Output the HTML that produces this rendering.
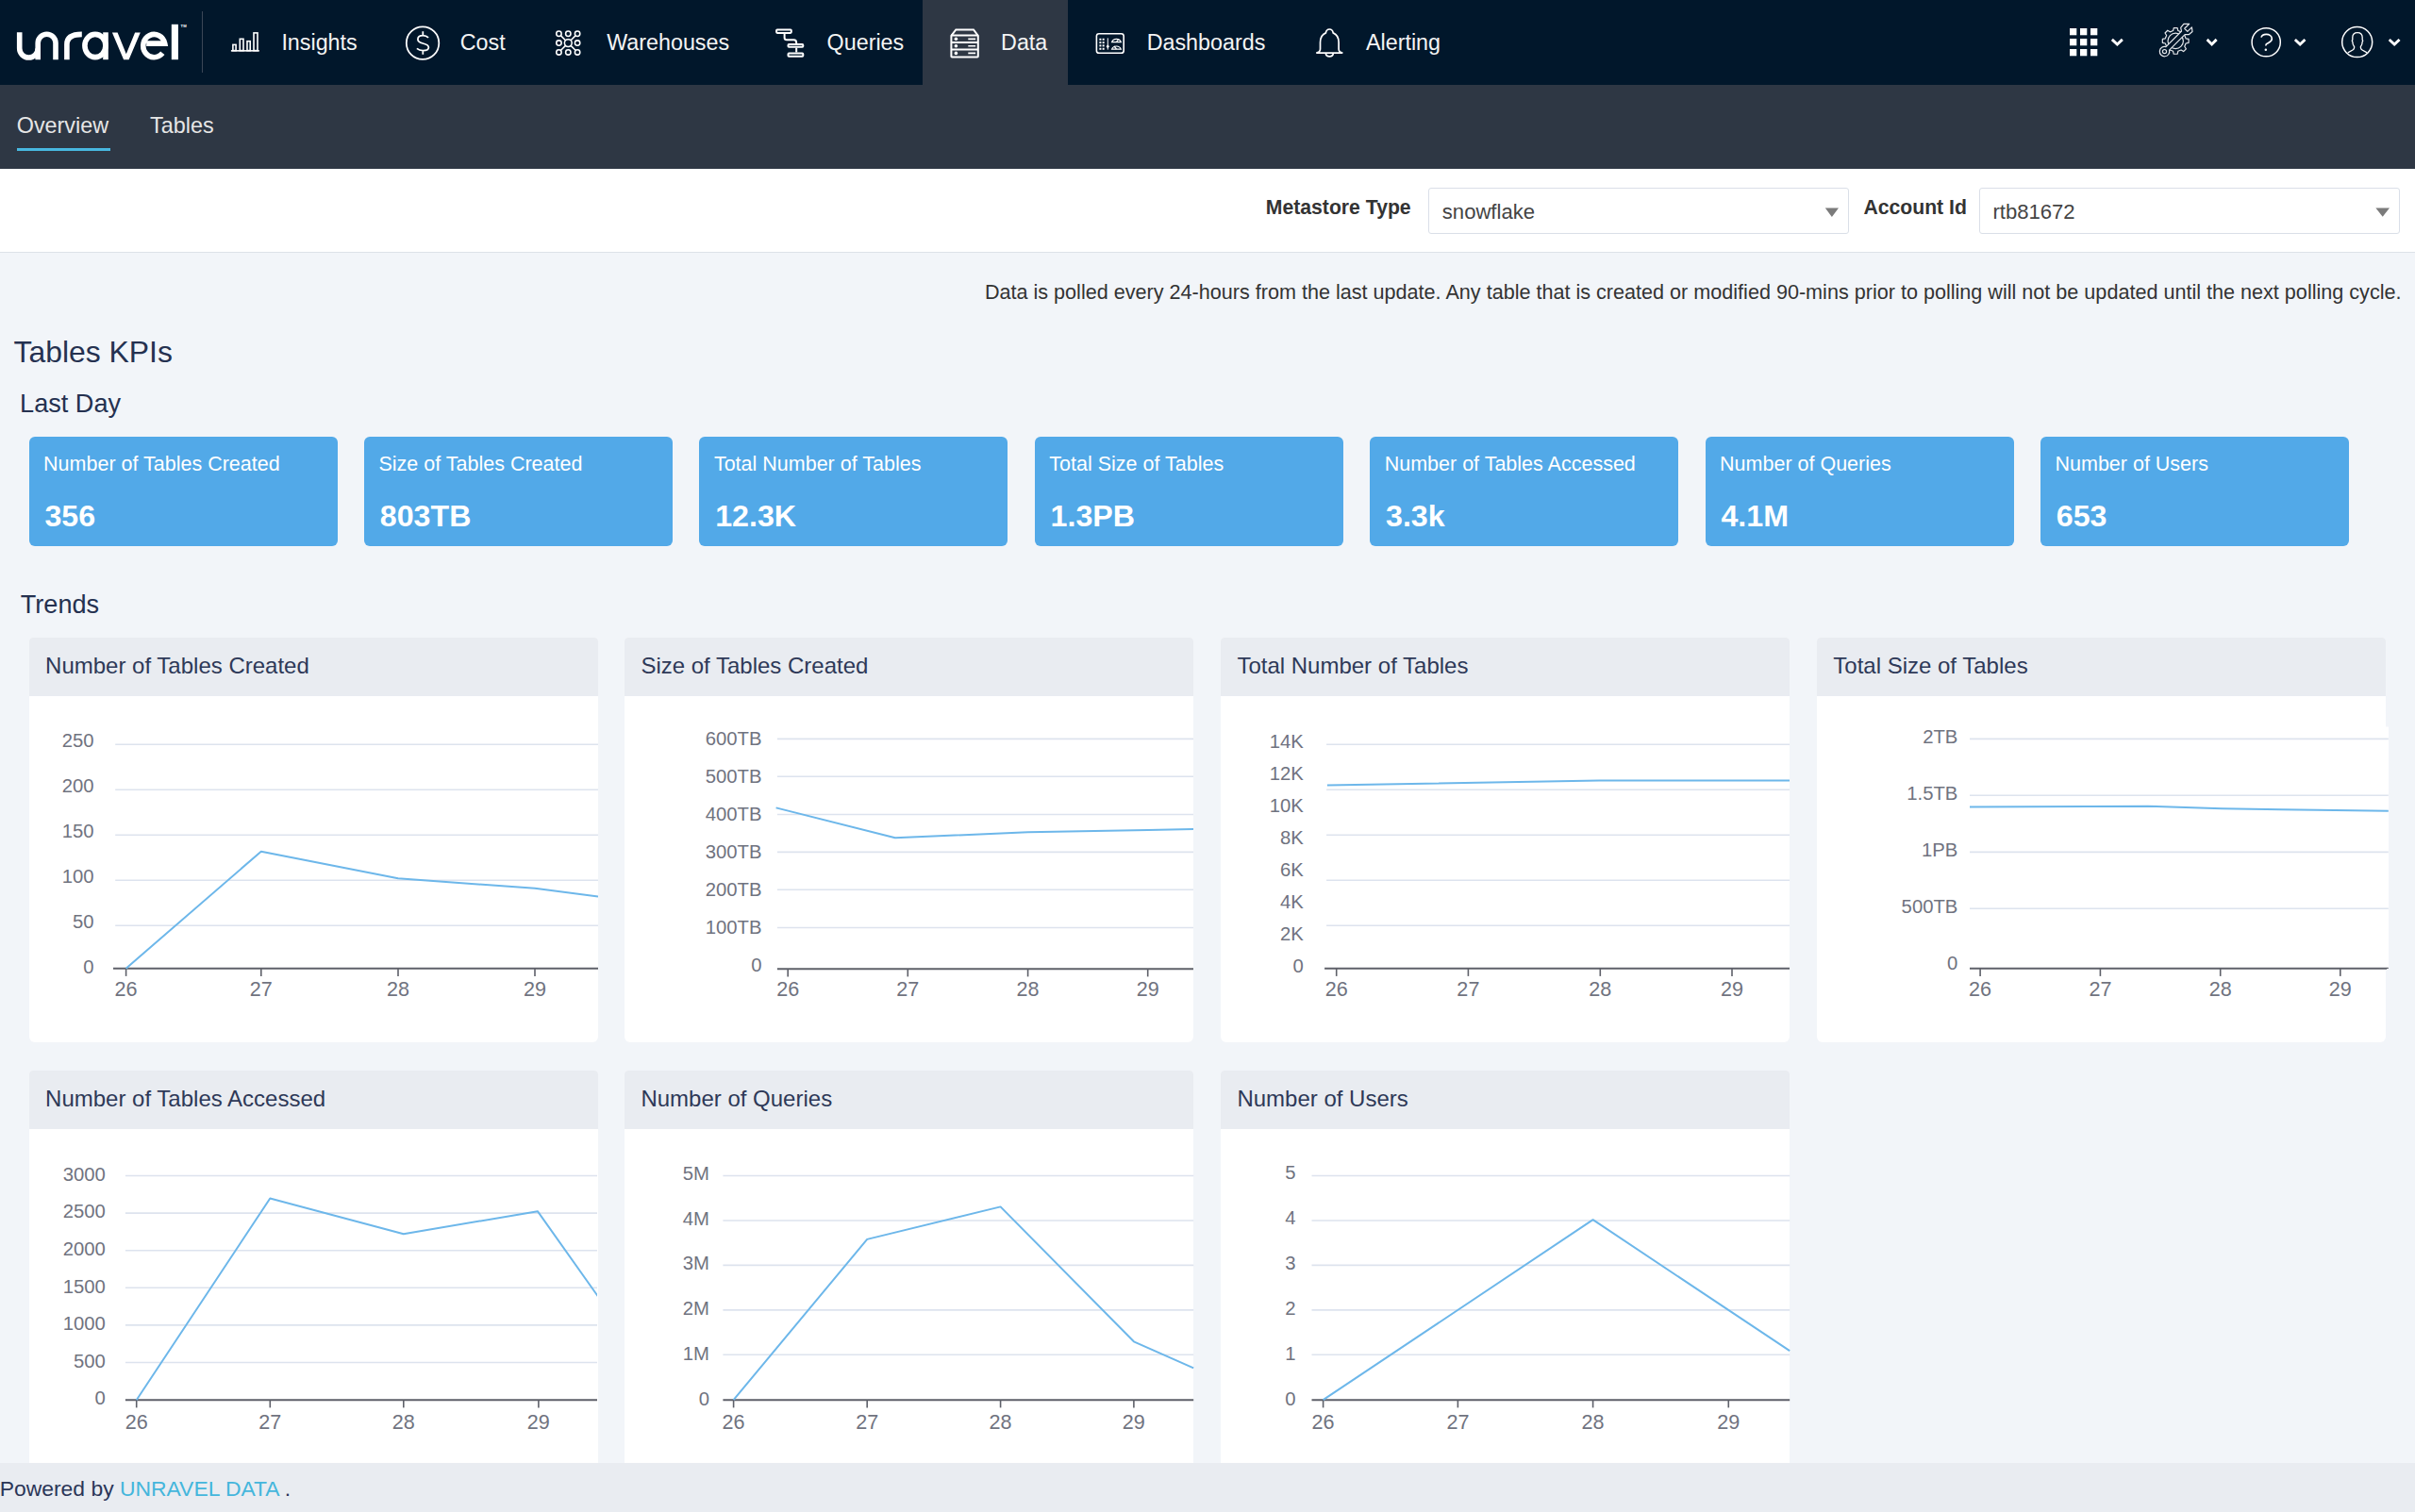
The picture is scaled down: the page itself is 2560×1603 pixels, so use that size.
<!DOCTYPE html>
<html><head><meta charset="utf-8"><title>Unravel - Data Overview</title>
<style>
html,body{margin:0;padding:0;}
body{width:2560px;height:1603px;position:relative;overflow:hidden;background:#f2f5f9;font-family:"Liberation Sans", sans-serif;}
.t{position:absolute;white-space:nowrap;line-height:1;}
</style></head><body>
<div style="position:absolute;left:0;top:0;width:2560px;height:90px;background:#01172b"></div><div style="position:absolute;left:978px;top:0;width:154px;height:90px;background:#2e3744"></div><div style="position:absolute;left:213.5px;top:12px;width:1.5px;height:65px;background:#3b4757"></div><svg style="position:absolute;left:0;top:0" width="220" height="90" viewBox="0 0 220 90">
<g fill="none" stroke="#fff" stroke-width="5.6" stroke-linecap="butt">
<path d="M20.7,34.3 V51.3 A9.75,9.75 0 0 0 40.2,51.3"/>
<path d="M40.2,63.2 V45.6 A9.4,9.4 0 0 1 59,45.6 V63.2"/>
<path d="M70.9,63.2 V47 Q70.9,36.4 86.8,36.4"/>
<ellipse cx="100.9" cy="48.5" rx="11" ry="12.1"/>
<path d="M112,34.3 V63.2"/>
<path d="M155.2,46.1 H174.7 A11.6,12.1 0 1 0 172.3,56.3"/>
</g>
<polygon fill="#fff" points="118.9,34.4 124.6,34.4 133.8,57.2 143.1,34.4 148.8,34.4 136.6,63.2 131.1,63.2"/>
<rect fill="#fff" x="181.8" y="25.8" width="7.1" height="37.4"/>
<text x="191.6" y="29.4" font-family="Liberation Sans" font-size="4.2" font-weight="700" fill="#fff">TM</text>
</svg><svg style="position:absolute;left:0;top:0" width="2560" height="90" viewBox="0 0 2560 90">
<g fill="none" stroke="#ffffff" stroke-width="1.6">
<!-- insights -->
<rect x="246.9" y="47.4" width="3.2" height="6.2"/>
<rect x="254.3" y="41.3" width="3.7" height="12.3"/>
<rect x="262" y="43.7" width="3.2" height="9.9"/>
<rect x="269" y="34.9" width="4" height="18.7"/>
<path d="M244.9,53.85 H274.8" stroke-width="1.6"/>
<!-- cost -->
<circle cx="448.05" cy="45.65" r="17.25" stroke-width="1.75"/>
<path stroke-width="1.75" d="M454.1,39.9 C452.5,38.2 450.5,37.6 448.3,37.6 C445,37.6 442.9,39.3 442.9,41.8 C442.9,44.5 445.5,45.3 448.3,46 C451.5,46.8 454.4,47.6 454.4,50.2 C454.4,52.5 451.8,53.6 448.3,53.6 C445.5,53.6 443.5,52.8 441.9,51.4 M448.3,33.3 V37.6 M448.3,53.6 V57.8"/>
<!-- warehouses -->
<g stroke-width="1.55">
<circle cx="592.45" cy="35.7" r="2.7"/><circle cx="602.3" cy="35.7" r="2.7"/><circle cx="612.1" cy="35.7" r="2.7"/>
<circle cx="592.45" cy="45.6" r="2.7"/><circle cx="612.1" cy="45.6" r="2.7"/>
<circle cx="592.45" cy="55.4" r="2.7"/><circle cx="602.3" cy="55.4" r="2.7"/><circle cx="612.1" cy="55.4" r="2.7"/>
<circle cx="602.3" cy="45.6" r="3.9"/>
<path d="M594.6,37.9 L599.5,42.8 M610,37.9 L605.1,42.8 M594.6,53.3 L599.5,48.4 M610,53.3 L605.1,48.4"/>
</g>
<!-- queries -->
<g stroke-width="2">
<rect x="823.1" y="31.4" width="15.7" height="3.5" rx="0.8"/>
<rect x="835.5" y="47.1" width="15.8" height="2.6" rx="0.8"/>
<rect x="835.5" y="56.6" width="15.8" height="3.2" rx="0.8"/>
<path d="M831.6,35.9 V40 Q831.6,42.3 834,42.3 H841.5 Q844.2,42.3 844.2,45.5 V46.1 M844.2,50.7 V55.6"/>
</g>
<!-- data -->
<g stroke-width="2">
<path d="M1008.4,59.8 V37.8 L1013.3,31.5 H1032 L1036.8,37.8 V59.8 Q1036.8,60.6 1036,60.6 H1009.2 Q1008.4,60.6 1008.4,59.8 Z"/>
<path d="M1008.4,37.6 H1036.8 M1008.4,44.9 H1036.8 M1008.4,52.5 H1036.8"/>
<path stroke-width="1.7" d="M1026.3,41.3 H1034.1 M1026.3,48.75 H1034.1 M1026.3,56.4 H1034.1"/>
</g>
<g fill="#ffffff" stroke="none"><circle cx="1013.4" cy="41.3" r="1.8"/><circle cx="1013.4" cy="48.75" r="1.8"/><circle cx="1013.4" cy="56.4" r="1.8"/></g>
<!-- dashboards -->
<rect x="1162.4" y="35.7" width="28.8" height="20.6" rx="2.6" stroke-width="1.6"/>
<g fill="#ffffff" stroke="none">
<rect x="1165.4" y="40.75" width="2" height="2"/><rect x="1168.65" y="40.75" width="2" height="2"/>
<rect x="1165.4" y="44.1" width="2" height="2"/><rect x="1168.65" y="44.1" width="2" height="2"/>
<rect x="1165.4" y="47.4" width="2" height="2"/><rect x="1168.65" y="47.4" width="2" height="2"/>
<rect x="1165.4" y="50.8" width="2" height="2"/><rect x="1168.65" y="50.8" width="2" height="2"/>
<path d="M1174.3,47.2 L1176,49.2 L1174.3,51.2 L1172.6,49.2 Z"/>
</g>
<path d="M1174.3,40.4 V52.6" stroke-width="1"/>
<path d="M1178.6,44.6 A5.1,4.8 0 0 1 1188.3,44.6 Z M1178.6,52.2 A5.1,4.6 0 0 1 1188.3,52.2 Z" stroke-width="1.2"/>
<path d="M1183.5,44.3 L1186,41.3 M1183.5,52 L1181,49" stroke-width="1.2"/>
<!-- bell -->
<path stroke-width="1.7" d="M1395.3,56.2 C1398,55.6 1399.5,54.5 1399.5,52 V45 C1399.5,39.5 1401.8,36.4 1405.4,34.9 C1405.8,32.5 1407.4,31 1409.3,31 C1411.2,31 1412.8,32.5 1413.2,34.9 C1416.8,36.4 1419.1,39.5 1419.1,45 V52 C1419.1,54.5 1420.6,55.6 1423.3,56.2 Z"/>
<path stroke-width="1.7" d="M1405.3,56.6 A4.05,3.6 0 0 0 1413.35,56.6"/>
<!-- help -->
<circle cx="2402.2" cy="44.75" r="15.1" stroke-width="1.5"/>
<path stroke-width="1.6" d="M2397,39.6 C2397.5,37.5 2399.5,36.4 2402.3,36.4 C2405.5,36.4 2408.3,38.2 2408.3,41.3 C2408.3,44 2405.5,45 2403.5,46 C2402.2,46.7 2401.8,47.3 2401.8,48.5"/>
<!-- user -->
<circle cx="2498.7" cy="44.6" r="16" stroke-width="1.5"/>
<path stroke-width="1.3" d="M2488.8,55.9 L2494,53 C2495.2,52.3 2495.6,51.5 2495.6,50.5 V49.5 C2494.3,48 2493.8,46 2493.8,44.2 C2493.1,43.7 2493.1,42.7 2493.8,42.2 V39.8 C2493.8,36.4 2495.9,34.6 2499,34.6 C2502.1,34.6 2504.2,36.4 2504.2,39.8 V42.2 C2504.9,42.7 2504.9,43.7 2504.2,44.2 C2504.2,46 2503.7,48 2502.4,49.5 V50.5 C2502.4,51.5 2502.8,52.3 2504,53 L2509.2,55.9"/>
<!-- chevrons -->
<g stroke-width="2.9" stroke-linecap="square" stroke-linejoin="miter">
<path d="M2239.9,42.9 L2244.35,47.1 L2248.8,42.9"/>
<path d="M2340.7,42.9 L2344.65,46.9 L2348.6,42.9"/>
<path d="M2433.9,43 L2438.15,47.1 L2442.4,43"/>
<path d="M2533.8,43 L2538.15,47.1 L2542.5,43"/>
</g>
<!-- gear wrench -->
<g stroke-width="1.2" stroke-linejoin="round" stroke="#e4e6ea">
<path d="M2317.09,40.79 L2320.06,41.45 L2320.06,45.35 L2317.09,46.01 L2315.75,49.25 L2317.38,51.83 L2314.63,54.58 L2312.05,52.95 L2308.81,54.29 L2308.15,57.26 L2304.25,57.26 L2303.59,54.29 L2300.35,52.95 L2297.77,54.58 L2295.02,51.83 L2296.65,49.25 L2295.31,46.01 L2292.34,45.35 L2292.34,41.45 L2295.31,40.79 L2296.65,37.55 L2295.02,34.97 L2297.77,32.22 L2300.35,33.85 L2303.59,32.51 L2304.25,29.54 L2308.15,29.54 L2308.81,32.51 L2312.05,33.85 L2314.63,32.22 L2317.38,34.97 L2315.75,37.55 Z"/>
<circle cx="2306.2" cy="43.4" r="8.2"/>
<path fill="#01172b" d="M2295.98,49.58 L2312.53,33.03 L2311.68,29.36 L2314.86,25.33 L2320.73,25.26 L2315.71,30.28 L2318.82,33.39 L2323.42,28.93 L2323.99,33.46 L2320.17,36.71 L2316.07,36.57 L2299.52,53.12 A5.2,5.2 0 1 1 2295.98,49.58 Z"/>
<circle cx="2294.5" cy="54.6" r="2.1"/>
</g>
</g>
<g fill="#ffffff">
<circle cx="2401.8" cy="52.8" r="1.25"/>
<rect x="2194" y="30" width="7.3" height="7.3"/><rect x="2205" y="30" width="7.3" height="7.3"/><rect x="2216" y="30" width="7.3" height="7.3"/>
<rect x="2194" y="41" width="7.3" height="7.3"/><rect x="2205" y="41" width="7.3" height="7.3"/><rect x="2216" y="41" width="7.3" height="7.3"/>
<rect x="2194" y="52" width="7.3" height="7.3"/><rect x="2205" y="52" width="7.3" height="7.3"/><rect x="2216" y="52" width="7.3" height="7.3"/>
</g>
</svg><div class="t" style="left:298.40px;top:33.57px;font-size:23.3px;color:#f4f4f4;font-weight:400;">Insights</div><div class="t" style="left:487.80px;top:33.57px;font-size:23.3px;color:#f4f4f4;font-weight:400;">Cost</div><div class="t" style="left:643.20px;top:33.57px;font-size:23.3px;color:#f4f4f4;font-weight:400;">Warehouses</div><div class="t" style="left:876.60px;top:33.57px;font-size:23.3px;color:#f4f4f4;font-weight:400;">Queries</div><div class="t" style="left:1061.10px;top:33.57px;font-size:23.3px;color:#f4f4f4;font-weight:400;">Data</div><div class="t" style="left:1215.70px;top:33.57px;font-size:23.3px;color:#f4f4f4;font-weight:400;">Dashboards</div><div class="t" style="left:1448.00px;top:33.57px;font-size:23.3px;color:#f4f4f4;font-weight:400;">Alerting</div><div style="position:absolute;left:0;top:90px;width:2560px;height:89px;background:#2e3744"></div><div class="t" style="left:17.70px;top:122.09px;font-size:23.4px;color:#e6e6e6;font-weight:400;">Overview</div><div class="t" style="left:159.10px;top:122.09px;font-size:23.4px;color:#e6e6e6;font-weight:400;">Tables</div><div style="position:absolute;left:18px;top:156.8px;width:99px;height:3.7px;background:#48b8e0"></div><div style="position:absolute;left:0;top:179px;width:2560px;height:88px;background:#fff;border-bottom:1.5px solid #dde2e8"></div><div class="t" style="left:1341.80px;top:208.95px;font-size:21.2px;color:#333333;font-weight:700;">Metastore Type</div><div style="position:absolute;left:1514px;top:199px;width:444px;height:47px;border:1.6px solid #dadfe8;border-radius:3px;background:#fff"></div><div class="t" style="left:1528.80px;top:214.19px;font-size:22.1px;color:#444444;font-weight:400;">snowflake</div><svg style="position:absolute;left:1930px;top:215px" width="24" height="20"><path d="M4.8,5.6 H19 L11.9,14.9 Z" fill="#7b7b7b"/></svg><div class="t" style="left:1975.40px;top:208.75px;font-size:21.2px;color:#333333;font-weight:700;">Account Id</div><div style="position:absolute;left:2098.4px;top:199px;width:443.6px;height:47px;border:1.6px solid #dadfe8;border-radius:3px;background:#fff"></div><div class="t" style="left:2112.40px;top:214.49px;font-size:22.1px;color:#444444;font-weight:400;">rtb81672</div><svg style="position:absolute;left:2514px;top:215px" width="24" height="20"><path d="M4.4,5.4 H19 L11.7,14.7 Z" fill="#7b7b7b"/></svg><div class="t" style="right:14.50px;top:298.91px;font-size:21.6px;color:#333333;font-weight:400;">Data is polled every 24-hours from the last update. Any table that is created or modified 90-mins prior to polling will not be updated until the next polling cycle.</div><div class="t" style="left:14.50px;top:357.99px;font-size:31.9px;color:#253150;font-weight:400;">Tables KPIs</div><div class="t" style="left:21.10px;top:414.25px;font-size:27.1px;color:#253150;font-weight:400;">Last Day</div><div style="position:absolute;left:30.60px;top:462.5px;width:327px;height:116.2px;background:#52a9e8;border-radius:6px"></div><div class="t" style="left:46.10px;top:482.10px;font-size:21.5px;color:#ffffff;font-weight:400;">Number of Tables Created</div><div class="t" style="left:47.40px;top:531.04px;font-size:32.2px;color:#ffffff;font-weight:700;">356</div><div style="position:absolute;left:386.00px;top:462.5px;width:327px;height:116.2px;background:#52a9e8;border-radius:6px"></div><div class="t" style="left:401.50px;top:482.10px;font-size:21.5px;color:#ffffff;font-weight:400;">Size of Tables Created</div><div class="t" style="left:402.80px;top:531.04px;font-size:32.2px;color:#ffffff;font-weight:700;">803TB</div><div style="position:absolute;left:741.40px;top:462.5px;width:327px;height:116.2px;background:#52a9e8;border-radius:6px"></div><div class="t" style="left:756.90px;top:482.10px;font-size:21.5px;color:#ffffff;font-weight:400;">Total Number of Tables</div><div class="t" style="left:758.20px;top:531.04px;font-size:32.2px;color:#ffffff;font-weight:700;">12.3K</div><div style="position:absolute;left:1096.80px;top:462.5px;width:327px;height:116.2px;background:#52a9e8;border-radius:6px"></div><div class="t" style="left:1112.30px;top:482.10px;font-size:21.5px;color:#ffffff;font-weight:400;">Total Size of Tables</div><div class="t" style="left:1113.60px;top:531.04px;font-size:32.2px;color:#ffffff;font-weight:700;">1.3PB</div><div style="position:absolute;left:1452.20px;top:462.5px;width:327px;height:116.2px;background:#52a9e8;border-radius:6px"></div><div class="t" style="left:1467.70px;top:482.10px;font-size:21.5px;color:#ffffff;font-weight:400;">Number of Tables Accessed</div><div class="t" style="left:1469.00px;top:531.04px;font-size:32.2px;color:#ffffff;font-weight:700;">3.3k</div><div style="position:absolute;left:1807.60px;top:462.5px;width:327px;height:116.2px;background:#52a9e8;border-radius:6px"></div><div class="t" style="left:1823.10px;top:482.10px;font-size:21.5px;color:#ffffff;font-weight:400;">Number of Queries</div><div class="t" style="left:1824.40px;top:531.04px;font-size:32.2px;color:#ffffff;font-weight:700;">4.1M</div><div style="position:absolute;left:2163.00px;top:462.5px;width:327px;height:116.2px;background:#52a9e8;border-radius:6px"></div><div class="t" style="left:2178.50px;top:482.10px;font-size:21.5px;color:#ffffff;font-weight:400;">Number of Users</div><div class="t" style="left:2179.80px;top:531.04px;font-size:32.2px;color:#ffffff;font-weight:700;">653</div><div class="t" style="left:21.80px;top:627.45px;font-size:27.1px;color:#253150;font-weight:400;">Trends</div><div style="position:absolute;left:31.00px;top:676.2px;width:603px;height:429.30px;background:#fff;border-radius:4px 4px 6px 6px;overflow:hidden"><div style="position:absolute;left:0;top:0;width:603px;height:62.30px;background:#e9ecf1"></div></div><div class="t" style="left:48.10px;top:694.48px;font-size:24px;color:#2e3958;font-weight:400;">Number of Tables Created</div><div style="position:absolute;left:662.30px;top:676.2px;width:603px;height:429.30px;background:#fff;border-radius:4px 4px 6px 6px;overflow:hidden"><div style="position:absolute;left:0;top:0;width:603px;height:62.30px;background:#e9ecf1"></div></div><div class="t" style="left:679.40px;top:694.48px;font-size:24px;color:#2e3958;font-weight:400;">Size of Tables Created</div><div style="position:absolute;left:1294.30px;top:676.2px;width:603px;height:429.30px;background:#fff;border-radius:4px 4px 6px 6px;overflow:hidden"><div style="position:absolute;left:0;top:0;width:603px;height:62.30px;background:#e9ecf1"></div></div><div class="t" style="left:1311.40px;top:694.48px;font-size:24px;color:#2e3958;font-weight:400;">Total Number of Tables</div><div style="position:absolute;left:1926.20px;top:676.2px;width:603px;height:429.30px;background:#fff;border-radius:4px 4px 6px 6px;overflow:hidden"><div style="position:absolute;left:0;top:0;width:603px;height:62.30px;background:#e9ecf1"></div></div><div class="t" style="left:1943.30px;top:694.48px;font-size:24px;color:#2e3958;font-weight:400;">Total Size of Tables</div><div style="position:absolute;left:31.00px;top:1135px;width:603px;height:515.00px;background:#fff;border-radius:4px 4px 6px 6px;overflow:hidden"><div style="position:absolute;left:0;top:0;width:603px;height:62.30px;background:#e9ecf1"></div></div><div class="t" style="left:48.10px;top:1153.28px;font-size:24px;color:#2e3958;font-weight:400;">Number of Tables Accessed</div><div style="position:absolute;left:662.30px;top:1135px;width:603px;height:515.00px;background:#fff;border-radius:4px 4px 6px 6px;overflow:hidden"><div style="position:absolute;left:0;top:0;width:603px;height:62.30px;background:#e9ecf1"></div></div><div class="t" style="left:679.40px;top:1153.28px;font-size:24px;color:#2e3958;font-weight:400;">Number of Queries</div><div style="position:absolute;left:1294.30px;top:1135px;width:603px;height:515.00px;background:#fff;border-radius:4px 4px 6px 6px;overflow:hidden"><div style="position:absolute;left:0;top:0;width:603px;height:62.30px;background:#e9ecf1"></div></div><div class="t" style="left:1311.40px;top:1153.28px;font-size:24px;color:#2e3958;font-weight:400;">Number of Users</div><svg style="position:absolute;left:31px;top:738.5px;overflow:hidden" width="603.00" height="367.00" viewBox="31 738.5 603.00 367.00"><line x1="122.2" y1="788.7" x2="634" y2="788.7" stroke="#dde3ee" stroke-width="1.6"/><line x1="122.2" y1="836.7" x2="634" y2="836.7" stroke="#dde3ee" stroke-width="1.6"/><line x1="122.2" y1="884.7" x2="634" y2="884.7" stroke="#dde3ee" stroke-width="1.6"/><line x1="122.2" y1="932.7" x2="634" y2="932.7" stroke="#dde3ee" stroke-width="1.6"/><line x1="122.2" y1="980.7" x2="634" y2="980.7" stroke="#dde3ee" stroke-width="1.6"/><line x1="120" y1="1026.2" x2="634" y2="1026.2" stroke="#5e6069" stroke-width="2"/><line x1="133.6" y1="1026.2" x2="133.6" y2="1034.4" stroke="#5e6069" stroke-width="1.6"/><line x1="276.8" y1="1026.2" x2="276.8" y2="1034.4" stroke="#5e6069" stroke-width="1.6"/><line x1="422" y1="1026.2" x2="422" y2="1034.4" stroke="#5e6069" stroke-width="1.6"/><line x1="567" y1="1026.2" x2="567" y2="1034.4" stroke="#5e6069" stroke-width="1.6"/><text x="99.6" y="791.6" text-anchor="end" font-family="Liberation Sans" font-size="20.3" fill="#70737f">250</text><text x="99.6" y="839.6" text-anchor="end" font-family="Liberation Sans" font-size="20.3" fill="#70737f">200</text><text x="99.6" y="887.6" text-anchor="end" font-family="Liberation Sans" font-size="20.3" fill="#70737f">150</text><text x="99.6" y="935.6" text-anchor="end" font-family="Liberation Sans" font-size="20.3" fill="#70737f">100</text><text x="99.6" y="983.6" text-anchor="end" font-family="Liberation Sans" font-size="20.3" fill="#70737f">50</text><text x="99.6" y="1031.6" text-anchor="end" font-family="Liberation Sans" font-size="20.3" fill="#70737f">0</text><text x="133.6" y="1055.6" text-anchor="middle" font-family="Liberation Sans" font-size="21.6" fill="#70737f">26</text><text x="276.8" y="1055.6" text-anchor="middle" font-family="Liberation Sans" font-size="21.6" fill="#70737f">27</text><text x="422" y="1055.6" text-anchor="middle" font-family="Liberation Sans" font-size="21.6" fill="#70737f">28</text><text x="567" y="1055.6" text-anchor="middle" font-family="Liberation Sans" font-size="21.6" fill="#70737f">29</text><polyline points="133.6,1026.2 276.8,902.2 422,930.7 567,941.3 634,950" fill="none" stroke="#6db7ea" stroke-width="2" stroke-linejoin="round"/></svg><svg style="position:absolute;left:662.3px;top:738.5px;overflow:hidden" width="603.00" height="367.00" viewBox="662.3 738.5 603.00 367.00"><line x1="824.2" y1="782.9" x2="1265.3" y2="782.9" stroke="#dde3ee" stroke-width="1.6"/><line x1="824.2" y1="822.8" x2="1265.3" y2="822.8" stroke="#dde3ee" stroke-width="1.6"/><line x1="824.2" y1="863" x2="1265.3" y2="863" stroke="#dde3ee" stroke-width="1.6"/><line x1="824.2" y1="902.9" x2="1265.3" y2="902.9" stroke="#dde3ee" stroke-width="1.6"/><line x1="824.2" y1="942.8" x2="1265.3" y2="942.8" stroke="#dde3ee" stroke-width="1.6"/><line x1="824.2" y1="983" x2="1265.3" y2="983" stroke="#dde3ee" stroke-width="1.6"/><line x1="824.2" y1="1026.7" x2="1265.3" y2="1026.7" stroke="#5e6069" stroke-width="2"/><line x1="835.5" y1="1026.7" x2="835.5" y2="1034.9" stroke="#5e6069" stroke-width="1.6"/><line x1="962.6" y1="1026.7" x2="962.6" y2="1034.9" stroke="#5e6069" stroke-width="1.6"/><line x1="1089.9" y1="1026.7" x2="1089.9" y2="1034.9" stroke="#5e6069" stroke-width="1.6"/><line x1="1217" y1="1026.7" x2="1217" y2="1034.9" stroke="#5e6069" stroke-width="1.6"/><text x="807.8000000000001" y="789.8" text-anchor="end" font-family="Liberation Sans" font-size="20.3" fill="#70737f">600TB</text><text x="807.8000000000001" y="829.8" text-anchor="end" font-family="Liberation Sans" font-size="20.3" fill="#70737f">500TB</text><text x="807.8000000000001" y="869.8" text-anchor="end" font-family="Liberation Sans" font-size="20.3" fill="#70737f">400TB</text><text x="807.8000000000001" y="909.8" text-anchor="end" font-family="Liberation Sans" font-size="20.3" fill="#70737f">300TB</text><text x="807.8000000000001" y="949.8" text-anchor="end" font-family="Liberation Sans" font-size="20.3" fill="#70737f">200TB</text><text x="807.8000000000001" y="989.8" text-anchor="end" font-family="Liberation Sans" font-size="20.3" fill="#70737f">100TB</text><text x="807.8000000000001" y="1029.8" text-anchor="end" font-family="Liberation Sans" font-size="20.3" fill="#70737f">0</text><text x="835.5" y="1055.6" text-anchor="middle" font-family="Liberation Sans" font-size="21.6" fill="#70737f">26</text><text x="962.6" y="1055.6" text-anchor="middle" font-family="Liberation Sans" font-size="21.6" fill="#70737f">27</text><text x="1089.9" y="1055.6" text-anchor="middle" font-family="Liberation Sans" font-size="21.6" fill="#70737f">28</text><text x="1217" y="1055.6" text-anchor="middle" font-family="Liberation Sans" font-size="21.6" fill="#70737f">29</text><polyline points="822.9,855.9 949.2,887.8 1089.9,881.7 1217,879.6 1265.7,878.6" fill="none" stroke="#6db7ea" stroke-width="2" stroke-linejoin="round"/></svg><svg style="position:absolute;left:1294.3px;top:738.5px;overflow:hidden" width="603.00" height="367.00" viewBox="1294.3 738.5 603.00 367.00"><line x1="1406.4" y1="788.7" x2="1897.3" y2="788.7" stroke="#dde3ee" stroke-width="1.6"/><line x1="1406.4" y1="836.7" x2="1897.3" y2="836.7" stroke="#dde3ee" stroke-width="1.6"/><line x1="1406.4" y1="884.7" x2="1897.3" y2="884.7" stroke="#dde3ee" stroke-width="1.6"/><line x1="1406.4" y1="932.7" x2="1897.3" y2="932.7" stroke="#dde3ee" stroke-width="1.6"/><line x1="1406.4" y1="980.7" x2="1897.3" y2="980.7" stroke="#dde3ee" stroke-width="1.6"/><line x1="1404.4" y1="1026.2" x2="1897.3" y2="1026.2" stroke="#5e6069" stroke-width="2"/><line x1="1417" y1="1026.2" x2="1417" y2="1034.4" stroke="#5e6069" stroke-width="1.6"/><line x1="1556.7" y1="1026.2" x2="1556.7" y2="1034.4" stroke="#5e6069" stroke-width="1.6"/><line x1="1696.6" y1="1026.2" x2="1696.6" y2="1034.4" stroke="#5e6069" stroke-width="1.6"/><line x1="1836.3" y1="1026.2" x2="1836.3" y2="1034.4" stroke="#5e6069" stroke-width="1.6"/><text x="1382.1999999999998" y="792.7" text-anchor="end" font-family="Liberation Sans" font-size="20.3" fill="#70737f">14K</text><text x="1382.1999999999998" y="826.63" text-anchor="end" font-family="Liberation Sans" font-size="20.3" fill="#70737f">12K</text><text x="1382.1999999999998" y="860.5600000000001" text-anchor="end" font-family="Liberation Sans" font-size="20.3" fill="#70737f">10K</text><text x="1382.1999999999998" y="894.49" text-anchor="end" font-family="Liberation Sans" font-size="20.3" fill="#70737f">8K</text><text x="1382.1999999999998" y="928.4200000000001" text-anchor="end" font-family="Liberation Sans" font-size="20.3" fill="#70737f">6K</text><text x="1382.1999999999998" y="962.35" text-anchor="end" font-family="Liberation Sans" font-size="20.3" fill="#70737f">4K</text><text x="1382.1999999999998" y="996.28" text-anchor="end" font-family="Liberation Sans" font-size="20.3" fill="#70737f">2K</text><text x="1382.1999999999998" y="1030.21" text-anchor="end" font-family="Liberation Sans" font-size="20.3" fill="#70737f">0</text><text x="1417" y="1055.6" text-anchor="middle" font-family="Liberation Sans" font-size="21.6" fill="#70737f">26</text><text x="1556.7" y="1055.6" text-anchor="middle" font-family="Liberation Sans" font-size="21.6" fill="#70737f">27</text><text x="1696.6" y="1055.6" text-anchor="middle" font-family="Liberation Sans" font-size="21.6" fill="#70737f">28</text><text x="1836.3" y="1055.6" text-anchor="middle" font-family="Liberation Sans" font-size="21.6" fill="#70737f">29</text><polyline points="1407.2,832 1695.6,826.9 1897.7,826.9" fill="none" stroke="#6db7ea" stroke-width="2" stroke-linejoin="round"/></svg><svg style="position:absolute;left:1926.2px;top:738.5px;overflow:hidden" width="605.80" height="367.00" viewBox="1926.2 738.5 605.80 367.00"><rect x="2529.2" y="770" width="3" height="257.4" fill="#fff"/><line x1="2088.2" y1="782.9" x2="2532" y2="782.9" stroke="#dde3ee" stroke-width="1.6"/><line x1="2088.2" y1="842.8" x2="2532" y2="842.8" stroke="#dde3ee" stroke-width="1.6"/><line x1="2088.2" y1="902.9" x2="2532" y2="902.9" stroke="#dde3ee" stroke-width="1.6"/><line x1="2088.2" y1="962.8" x2="2532" y2="962.8" stroke="#dde3ee" stroke-width="1.6"/><line x1="2088.2" y1="1026.2" x2="2532" y2="1026.2" stroke="#5e6069" stroke-width="2"/><line x1="2099.3" y1="1026.2" x2="2099.3" y2="1034.4" stroke="#5e6069" stroke-width="1.6"/><line x1="2226.6" y1="1026.2" x2="2226.6" y2="1034.4" stroke="#5e6069" stroke-width="1.6"/><line x1="2353.9" y1="1026.2" x2="2353.9" y2="1034.4" stroke="#5e6069" stroke-width="1.6"/><line x1="2481" y1="1026.2" x2="2481" y2="1034.4" stroke="#5e6069" stroke-width="1.6"/><text x="2075.6" y="788" text-anchor="end" font-family="Liberation Sans" font-size="20.3" fill="#70737f">2TB</text><text x="2075.6" y="848" text-anchor="end" font-family="Liberation Sans" font-size="20.3" fill="#70737f">1.5TB</text><text x="2075.6" y="908" text-anchor="end" font-family="Liberation Sans" font-size="20.3" fill="#70737f">1PB</text><text x="2075.6" y="968" text-anchor="end" font-family="Liberation Sans" font-size="20.3" fill="#70737f">500TB</text><text x="2075.6" y="1028" text-anchor="end" font-family="Liberation Sans" font-size="20.3" fill="#70737f">0</text><text x="2099.3" y="1055.6" text-anchor="middle" font-family="Liberation Sans" font-size="21.6" fill="#70737f">26</text><text x="2226.6" y="1055.6" text-anchor="middle" font-family="Liberation Sans" font-size="21.6" fill="#70737f">27</text><text x="2353.9" y="1055.6" text-anchor="middle" font-family="Liberation Sans" font-size="21.6" fill="#70737f">28</text><text x="2481" y="1055.6" text-anchor="middle" font-family="Liberation Sans" font-size="21.6" fill="#70737f">29</text><polyline points="2088.2,854.9 2277,854.2 2355.4,856.7 2418.5,857.7 2532,859.2" fill="none" stroke="#6db7ea" stroke-width="2" stroke-linejoin="round"/></svg><div style="position:absolute;left:2529.5px;top:738.5px;width:4px;height:31.5px;background:#f2f5f9"></div><div style="position:absolute;left:2529.5px;top:1027.4px;width:4px;height:80px;background:#f2f5f9"></div><svg style="position:absolute;left:30.7px;top:1197.3px;overflow:hidden" width="602.80" height="353.70" viewBox="30.7 1197.3 602.80 353.70"><line x1="132.6" y1="1246.8" x2="633.5" y2="1246.8" stroke="#dde3ee" stroke-width="1.6"/><line x1="132.6" y1="1286.3999999999999" x2="633.5" y2="1286.3999999999999" stroke="#dde3ee" stroke-width="1.6"/><line x1="132.6" y1="1326.0" x2="633.5" y2="1326.0" stroke="#dde3ee" stroke-width="1.6"/><line x1="132.6" y1="1365.6" x2="633.5" y2="1365.6" stroke="#dde3ee" stroke-width="1.6"/><line x1="132.6" y1="1405.2" x2="633.5" y2="1405.2" stroke="#dde3ee" stroke-width="1.6"/><line x1="132.6" y1="1444.8" x2="633.5" y2="1444.8" stroke="#dde3ee" stroke-width="1.6"/><line x1="132.6" y1="1484.5" x2="633.5" y2="1484.5" stroke="#5e6069" stroke-width="2"/><line x1="144.4" y1="1484.5" x2="144.4" y2="1492.7" stroke="#5e6069" stroke-width="1.6"/><line x1="286" y1="1484.5" x2="286" y2="1492.7" stroke="#5e6069" stroke-width="1.6"/><line x1="427.5" y1="1484.5" x2="427.5" y2="1492.7" stroke="#5e6069" stroke-width="1.6"/><line x1="570.6" y1="1484.5" x2="570.6" y2="1492.7" stroke="#5e6069" stroke-width="1.6"/><text x="111.5" y="1252.2" text-anchor="end" font-family="Liberation Sans" font-size="20.3" fill="#70737f">3000</text><text x="111.5" y="1291.8" text-anchor="end" font-family="Liberation Sans" font-size="20.3" fill="#70737f">2500</text><text x="111.5" y="1331.4" text-anchor="end" font-family="Liberation Sans" font-size="20.3" fill="#70737f">2000</text><text x="111.5" y="1371.0" text-anchor="end" font-family="Liberation Sans" font-size="20.3" fill="#70737f">1500</text><text x="111.5" y="1410.6000000000001" text-anchor="end" font-family="Liberation Sans" font-size="20.3" fill="#70737f">1000</text><text x="111.5" y="1450.2" text-anchor="end" font-family="Liberation Sans" font-size="20.3" fill="#70737f">500</text><text x="111.5" y="1489.8000000000002" text-anchor="end" font-family="Liberation Sans" font-size="20.3" fill="#70737f">0</text><text x="144.4" y="1515.6" text-anchor="middle" font-family="Liberation Sans" font-size="21.6" fill="#70737f">26</text><text x="286" y="1515.6" text-anchor="middle" font-family="Liberation Sans" font-size="21.6" fill="#70737f">27</text><text x="427.5" y="1515.6" text-anchor="middle" font-family="Liberation Sans" font-size="21.6" fill="#70737f">28</text><text x="570.6" y="1515.6" text-anchor="middle" font-family="Liberation Sans" font-size="21.6" fill="#70737f">29</text><polyline points="144.4,1484.5 286,1270.8 427.5,1308.5 569.6,1284.5 633.5,1374.6" fill="none" stroke="#6db7ea" stroke-width="2" stroke-linejoin="round"/></svg><svg style="position:absolute;left:662.4px;top:1197.3px;overflow:hidden" width="603.20" height="353.70" viewBox="662.4 1197.3 603.20 353.70"><line x1="766.8" y1="1246.8" x2="1265.6" y2="1246.8" stroke="#dde3ee" stroke-width="1.6"/><line x1="766.8" y1="1294.25" x2="1265.6" y2="1294.25" stroke="#dde3ee" stroke-width="1.6"/><line x1="766.8" y1="1341.7" x2="1265.6" y2="1341.7" stroke="#dde3ee" stroke-width="1.6"/><line x1="766.8" y1="1389.15" x2="1265.6" y2="1389.15" stroke="#dde3ee" stroke-width="1.6"/><line x1="766.8" y1="1436.6" x2="1265.6" y2="1436.6" stroke="#dde3ee" stroke-width="1.6"/><line x1="766.8" y1="1484.5" x2="1265.6" y2="1484.5" stroke="#5e6069" stroke-width="2"/><line x1="778" y1="1484.5" x2="778" y2="1492.7" stroke="#5e6069" stroke-width="1.6"/><line x1="919.6" y1="1484.5" x2="919.6" y2="1492.7" stroke="#5e6069" stroke-width="1.6"/><line x1="1061" y1="1484.5" x2="1061" y2="1492.7" stroke="#5e6069" stroke-width="1.6"/><line x1="1202.3" y1="1484.5" x2="1202.3" y2="1492.7" stroke="#5e6069" stroke-width="1.6"/><text x="752.4" y="1251.0" text-anchor="end" font-family="Liberation Sans" font-size="20.3" fill="#70737f">5M</text><text x="752.4" y="1298.9" text-anchor="end" font-family="Liberation Sans" font-size="20.3" fill="#70737f">4M</text><text x="752.4" y="1346.8" text-anchor="end" font-family="Liberation Sans" font-size="20.3" fill="#70737f">3M</text><text x="752.4" y="1394.7" text-anchor="end" font-family="Liberation Sans" font-size="20.3" fill="#70737f">2M</text><text x="752.4" y="1442.6" text-anchor="end" font-family="Liberation Sans" font-size="20.3" fill="#70737f">1M</text><text x="752.4" y="1490.5" text-anchor="end" font-family="Liberation Sans" font-size="20.3" fill="#70737f">0</text><text x="778" y="1515.6" text-anchor="middle" font-family="Liberation Sans" font-size="21.6" fill="#70737f">26</text><text x="919.6" y="1515.6" text-anchor="middle" font-family="Liberation Sans" font-size="21.6" fill="#70737f">27</text><text x="1061" y="1515.6" text-anchor="middle" font-family="Liberation Sans" font-size="21.6" fill="#70737f">28</text><text x="1202.3" y="1515.6" text-anchor="middle" font-family="Liberation Sans" font-size="21.6" fill="#70737f">29</text><polyline points="778,1484.5 919.6,1314.2 1061,1279.7 1202.3,1422.6 1265.6,1450.7" fill="none" stroke="#6db7ea" stroke-width="2" stroke-linejoin="round"/></svg><svg style="position:absolute;left:1294.4px;top:1197.3px;overflow:hidden" width="603.20" height="353.70" viewBox="1294.4 1197.3 603.20 353.70"><line x1="1390.9" y1="1246.8" x2="1897.6" y2="1246.8" stroke="#dde3ee" stroke-width="1.6"/><line x1="1390.9" y1="1294.25" x2="1897.6" y2="1294.25" stroke="#dde3ee" stroke-width="1.6"/><line x1="1390.9" y1="1341.7" x2="1897.6" y2="1341.7" stroke="#dde3ee" stroke-width="1.6"/><line x1="1390.9" y1="1389.15" x2="1897.6" y2="1389.15" stroke="#dde3ee" stroke-width="1.6"/><line x1="1390.9" y1="1436.6" x2="1897.6" y2="1436.6" stroke="#dde3ee" stroke-width="1.6"/><line x1="1390.9" y1="1484.5" x2="1897.6" y2="1484.5" stroke="#5e6069" stroke-width="2"/><line x1="1403" y1="1484.5" x2="1403" y2="1492.7" stroke="#5e6069" stroke-width="1.6"/><line x1="1545.8" y1="1484.5" x2="1545.8" y2="1492.7" stroke="#5e6069" stroke-width="1.6"/><line x1="1689" y1="1484.5" x2="1689" y2="1492.7" stroke="#5e6069" stroke-width="1.6"/><line x1="1832.7" y1="1484.5" x2="1832.7" y2="1492.7" stroke="#5e6069" stroke-width="1.6"/><text x="1373.8999999999999" y="1250.4" text-anchor="end" font-family="Liberation Sans" font-size="20.3" fill="#70737f">5</text><text x="1373.8999999999999" y="1298.4" text-anchor="end" font-family="Liberation Sans" font-size="20.3" fill="#70737f">4</text><text x="1373.8999999999999" y="1346.4" text-anchor="end" font-family="Liberation Sans" font-size="20.3" fill="#70737f">3</text><text x="1373.8999999999999" y="1394.4" text-anchor="end" font-family="Liberation Sans" font-size="20.3" fill="#70737f">2</text><text x="1373.8999999999999" y="1442.4" text-anchor="end" font-family="Liberation Sans" font-size="20.3" fill="#70737f">1</text><text x="1373.8999999999999" y="1490.4" text-anchor="end" font-family="Liberation Sans" font-size="20.3" fill="#70737f">0</text><text x="1403" y="1515.6" text-anchor="middle" font-family="Liberation Sans" font-size="21.6" fill="#70737f">26</text><text x="1545.8" y="1515.6" text-anchor="middle" font-family="Liberation Sans" font-size="21.6" fill="#70737f">27</text><text x="1689" y="1515.6" text-anchor="middle" font-family="Liberation Sans" font-size="21.6" fill="#70737f">28</text><text x="1832.7" y="1515.6" text-anchor="middle" font-family="Liberation Sans" font-size="21.6" fill="#70737f">29</text><polyline points="1403,1484.5 1689,1293.5 1897.6,1432.5" fill="none" stroke="#6db7ea" stroke-width="2" stroke-linejoin="round"/></svg><div style="position:absolute;left:0;top:1550.7px;width:2560px;height:60px;background:#e9ecf1"></div><div class="t" style="left:-0.30px;top:1566.91px;font-size:22.9px;color:#2b3658;font-weight:400;">Powered by <span style="color:#44b6dc">UNRAVEL DATA</span> .</div>
</body></html>
